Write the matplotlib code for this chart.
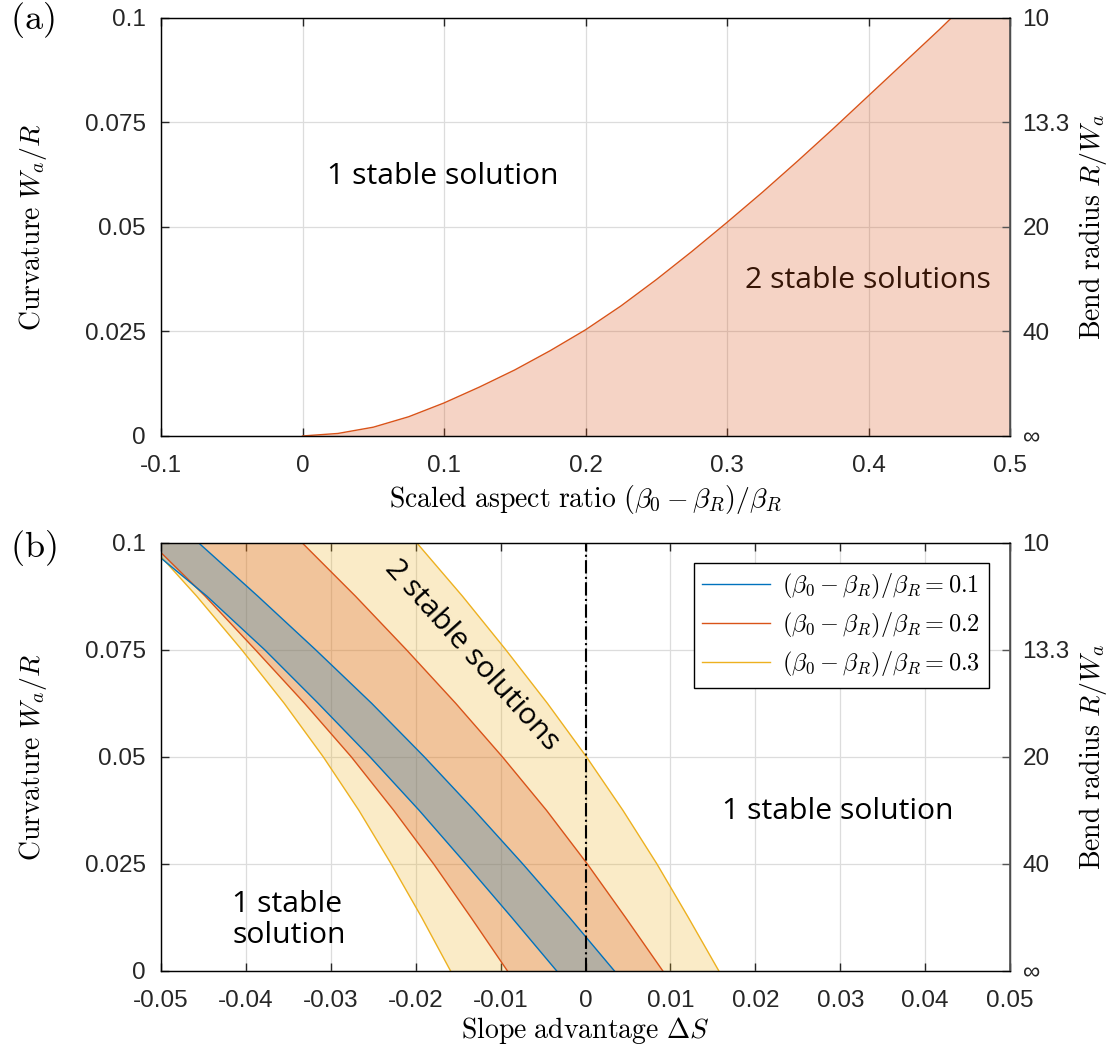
import numpy as np
import matplotlib
matplotlib.use("Agg")
import matplotlib.pyplot as plt

plt.rcParams['mathtext.fontset'] = 'cm'
plt.rcParams['axes.unicode_minus'] = False

# ---------------- data ----------------
# Panel (a): critical curvature vs scaled aspect ratio
a_x = [-0.1, 0.0, 0.025, 0.05, 0.075, 0.1, 0.125, 0.15, 0.175, 0.2, 0.225, 0.25,
       0.275, 0.3, 0.325, 0.35, 0.375, 0.4, 0.425, 0.45, 0.4585]
a_y = [0.0, 0.0, 0.0006, 0.0021, 0.0046, 0.0079, 0.0117, 0.0158, 0.0204, 0.0254,
       0.0311, 0.0374, 0.0441, 0.0511, 0.0583, 0.0658, 0.0735, 0.0814, 0.0893,
       0.0972, 0.1]
a_xticks = [-0.1, 0, 0.1, 0.2, 0.3, 0.4, 0.5]
a_xticklabels = ['-0.1', '0', '0.1', '0.2', '0.3', '0.4', '0.5']

# Panel (b): band boundaries (slope advantage at given curvature levels)
b_levels = [0.0, 0.0125, 0.025, 0.0375, 0.05, 0.0625, 0.075, 0.0875, 0.1]
b_left_01 = [-0.0034, -0.0087, -0.0141, -0.0196, -0.0254, -0.0315, -0.0378, -0.0446, -0.0522]
b_right_01 = [0.0034, -0.0019, -0.0074, -0.0131, -0.0190, -0.0252, -0.0318, -0.0386, -0.0456]
b_left_02 = [-0.0092, -0.0135, -0.0179, -0.0226, -0.0276, -0.0331, -0.0389, -0.0448, -0.0512]
b_right_02 = [0.0091, 0.0047, 0.0002, -0.0046, -0.0098, -0.0153, -0.0211, -0.0271, -0.0334]
b_left_03 = [-0.0159, -0.0193, -0.0229, -0.0267, -0.0309, -0.0355, -0.0405, -0.0458, -0.0515]
b_right_03 = [0.0157, 0.0121, 0.0084, 0.0044, 0.0001, -0.0045, -0.0094, -0.0145, -0.0199]
b_labels = [r'$(\beta_0-\beta_R)/\beta_R=0.1$',
            r'$(\beta_0-\beta_R)/\beta_R=0.2$',
            r'$(\beta_0-\beta_R)/\beta_R=0.3$']
b_xticks = [-0.05, -0.04, -0.03, -0.02, -0.01, 0, 0.01, 0.02, 0.03, 0.04, 0.05]
b_xticklabels = ['-0.05', '-0.04', '-0.03', '-0.02', '-0.01', '0',
                 '0.01', '0.02', '0.03', '0.04', '0.05']

yticks = [0, 0.025, 0.05, 0.075, 0.1]
yticklabels = ['0', '0.025', '0.05', '0.075', '0.1']
ryticklabels = ['\u221e', '40', '20', '13.3', '10']

# ---------------- style ----------------
C_BLUE = '#0072BD'
C_RED = '#D95319'
C_YEL = '#EDB120'
AX_COL = '#262626'
GRID_COL = '#dcdcdc'
TICK_FONT = 'Liberation Sans'
ANN_FONT = 'Open Sans'
TICK_SIZE = 17.5
LABEL_SIZE = 20
ANN_SIZE = 21.7

fig = plt.figure(figsize=(11.16, 10.49), dpi=100)
ax_a = fig.add_axes([0.1443, 0.5844, 0.7608, 0.3985])
ax_b = fig.add_axes([0.1443, 0.0744, 0.7608, 0.4083])


def style_axes(ax, xlim, xticks, xticklabels, xlabel, xlabelpad):
    ax.set_xlim(xlim)
    ax.set_ylim(0, 0.1)
    ax.set_xticks(xticks)
    ax.set_xticklabels(xticklabels, fontfamily=TICK_FONT, fontsize=TICK_SIZE, color=AX_COL)
    ax.set_yticks(yticks)
    ax.set_yticklabels(yticklabels, fontfamily=TICK_FONT, fontsize=TICK_SIZE, color=AX_COL)
    ax.tick_params(direction='in', length=6, width=1.0, top=True, right=False,
                   color=AX_COL)
    ax.tick_params(axis='x', pad=14)
    ax.tick_params(axis='y', pad=11)
    ax.grid(True, color=GRID_COL, linewidth=0.9)
    ax.set_axisbelow(True)
    for s in ax.spines.values():
        s.set_color(AX_COL)
        s.set_linewidth(1.0)
    ax.set_xlabel(xlabel, fontsize=LABEL_SIZE, labelpad=xlabelpad)
    ax.set_ylabel(r'$\mathrm{Curvature}\ W_a/R$', fontsize=LABEL_SIZE, labelpad=26)
    axr = ax.twinx()
    axr.set_ylim(0, 0.1)
    axr.set_yticks(yticks)
    axr.set_yticklabels(ryticklabels, fontfamily=TICK_FONT, fontsize=TICK_SIZE, color=AX_COL)
    axr.tick_params(direction='in', length=6, width=1.0, color='#555555', pad=9)
    axr.spines['right'].set_color('#555555')
    axr.spines['right'].set_linewidth(1.2)
    axr.set_ylabel(r'$\mathrm{Bend\ radius}\ R/W_a$', fontsize=LABEL_SIZE, labelpad=5)
    return axr


# ---------------- panel (a) ----------------
style_axes(ax_a, (-0.1, 0.5), a_xticks, a_xticklabels,
           r'$\mathrm{Scaled\ aspect\ ratio}\ (\beta_0-\beta_R)/\beta_R$', 4)
xmax_a = ax_a.get_xlim()[1]
fx = list(a_x) + [xmax_a]
fy = list(a_y) + [a_y[-1]]
ax_a.fill_between(fx, fy, 0, color=C_RED, alpha=0.25, linewidth=0)
ax_a.plot(a_x[1:], a_y[1:], color=C_RED, linewidth=1.0)
ax_a.text(0.0993, 0.0620, '1 stable solution', fontfamily=ANN_FONT, fontsize=ANN_SIZE,
          ha='center', va='center', color='black')
ax_a.text(0.3997, 0.0371, '2 stable solutions', fontfamily=ANN_FONT, fontsize=ANN_SIZE,
          ha='center', va='center', color='#361506')
fig.text(0.009, 0.981, r'$\mathrm{(a)}$', fontsize=26, ha='left', va='center')

# ---------------- panel (b) ----------------
style_axes(ax_b, (-0.05, 0.05), b_xticks, b_xticklabels,
           r'$\mathrm{Slope\ advantage}\ \Delta S$', 2)
bands = [(b_left_03, b_right_03, C_YEL, b_labels[2]),
         (b_left_02, b_right_02, C_RED, b_labels[1]),
         (b_left_01, b_right_01, C_BLUE, b_labels[0])]
for left, right, col, lab in bands:
    ax_b.fill_betweenx(b_levels, left, right, color=col, alpha=0.25, linewidth=0)
handles = {}
for left, right, col, lab in bands:
    ax_b.plot(left, b_levels, color=col, linewidth=1.0)
    h, = ax_b.plot(right, b_levels, color=col, linewidth=1.0)
    handles[lab] = h
ax_b.axvline(0, color='black', linestyle='-.', linewidth=1.5)
leg = ax_b.legend([handles[l] for l in b_labels], b_labels, loc='upper right',
                  bbox_to_anchor=(0.975, 0.9526), borderaxespad=0, fontsize=17.5,
                  fancybox=False, framealpha=1, edgecolor='black', handlelength=2.8,
                  handletextpad=0.5, labelspacing=0.42, borderpad=0.35)
leg.get_frame().set_linewidth(1.0)
ax_b.text(-0.0134, 0.0738, '2 stable solutions', fontfamily=ANN_FONT, fontsize=ANN_SIZE,
          ha='center', va='center', rotation=-48, rotation_mode='anchor', color='black')
ax_b.text(0.0297, 0.0372, '1 stable solution', fontfamily=ANN_FONT, fontsize=ANN_SIZE,
          ha='center', va='center', color='black')
ax_b.text(-0.0416, 0.0119, '1 stable\nsolution', fontfamily=ANN_FONT, fontsize=ANN_SIZE,
          ha='left', va='center', color='black', linespacing=1.05)
fig.text(0.009, 0.4776, r'$\mathrm{(b)}$', fontsize=26, ha='left', va='center')

fig.savefig('out.png', dpi=100)
